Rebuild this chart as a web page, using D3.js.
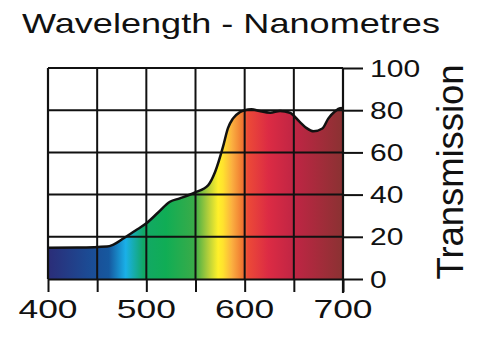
<!DOCTYPE html>
<html>
<head>
<meta charset="utf-8">
<script src="https://cdn.jsdelivr.net/npm/d3@7"></script>
<style>
  html, body { margin: 0; padding: 0; background: #fff; }
  svg { display: block; font-family: "Liberation Sans", Arial, sans-serif; }
</style>
</head>
<body>
<svg id="chart" width="494" height="363"></svg>
<script>
// ── Data ─────────────────────────────────────────────
const wavelength   = [400, 430, 460, 466, 477, 489, 500, 512, 524, 534, 549, 563, 570, 578, 583, 588, 595, 600, 607, 615, 626, 636, 646, 656, 663, 670, 679, 685, 692, 697, 700];
const transmission = [14.8, 14.9, 15.4, 16.2, 19.3, 23, 26.4, 31.5, 36.6, 38.2, 40.9, 44.5, 50.8, 62.7, 71.5, 76, 79, 80, 80.4, 79.6, 78.8, 79.6, 78.8, 74.5, 71.5, 70, 71.3, 76, 79.5, 80.9, 81];
const xTicks       = [400, 450, 500, 550, 600, 650, 700];
const xLabels      = [400, 500, 600, 700];
const yTicks       = [0, 20, 40, 60, 80, 100];

// spectrum colour stops (wavelength, colour)
const spectrumNm   = [400, 440, 462, 479, 497, 520, 549, 563, 573, 578, 587, 597, 603, 624, 651, 700];
const spectrumCol  = ['#2b2d78', '#1c4a93', '#16589f', '#1ab0e8', '#12a866', '#10ad55', '#3aab48', '#b4cf3a', '#fff02a', '#ffe22e', '#fbb040', '#f07b32', '#ec4a37', '#dc2b44', '#bf2544', '#8a3232'];

// ── Scales ───────────────────────────────────────────
const svg = d3.select('#chart');
const x = d3.scaleLinear().domain([400, 700]).range([48, 343]);
const y = d3.scaleLinear().domain([0, 100]).range([279, 68]);

const pts = wavelength.map((w, i) => [w, transmission[i]]);

// ── Gradient ─────────────────────────────────────────
const defs = svg.append('defs');
const grad = defs.append('linearGradient')
  .attr('id', 'spectrum')
  .attr('gradientUnits', 'userSpaceOnUse')
  .attr('x1', x(400)).attr('x2', x(700))
  .attr('y1', 0).attr('y2', 0);
spectrumNm.forEach((w, i) => {
  grad.append('stop')
    .attr('offset', (w - 400) / 300)
    .attr('stop-color', spectrumCol[i]);
});

// ── Area + curve ─────────────────────────────────────
svg.append('path')
  .datum(pts)
  .attr('fill', 'url(#spectrum)')
  .attr('d', d3.area().curve(d3.curveMonotoneX)
    .x(d => x(d[0])).y0(y(0)).y1(d => y(d[1])));

// ── Grid ─────────────────────────────────────────────
const grid = svg.append('g').attr('stroke', '#111').attr('stroke-width', 2);
grid.selectAll('.vg').data(xTicks.slice(1, -1)).join('line')
  .attr('x1', d => x(d)).attr('x2', d => x(d))
  .attr('y1', y(100)).attr('y2', y(0));
grid.selectAll('.hg').data(yTicks.slice(1, -1)).join('line')
  .attr('x1', x(400)).attr('x2', x(700))
  .attr('y1', d => y(d)).attr('y2', d => y(d));

svg.append('path')
  .datum(pts)
  .attr('fill', 'none')
  .attr('stroke', '#111')
  .attr('stroke-width', 2.5)
  .attr('stroke-linejoin', 'round')
  .attr('d', d3.line().curve(d3.curveMonotoneX)
    .x(d => x(d[0])).y(d => y(d[1])));

// ── Frame ────────────────────────────────────────────
const frame = svg.append('g').attr('stroke', '#111').attr('stroke-width', 2.2).attr('fill', 'none');
frame.append('line').attr('x1', x(400)).attr('x2', x(700)).attr('y1', y(100)).attr('y2', y(100));
frame.append('line').attr('x1', x(400)).attr('x2', x(400)).attr('y1', y(100)).attr('y2', y(0));

// bottom axis
const xAxis = svg.append('g')
  .attr('transform', `translate(0,${y(0)})`)
  .call(d3.axisBottom(x).tickValues(xTicks).tickSize(13).tickSizeOuter(0).tickFormat(''));
xAxis.select('.domain').attr('stroke', '#111').attr('stroke-width', 2.2);
xAxis.selectAll('.tick line').attr('stroke', '#111').attr('stroke-width', 2);

svg.append('g').selectAll('text').data(xLabels).join('text')
  .attr('x', d => x(d)).attr('y', 318)
  .attr('text-anchor', 'middle')
  .attr('font-size', 25)
  .attr('textLength', d => String(d).length * 19.7)
  .attr('lengthAdjust', 'spacingAndGlyphs')
  .attr('fill', '#111')
  .text(d => d);

// right axis
const yAxis = svg.append('g')
  .attr('transform', `translate(${x(700)},0)`)
  .call(d3.axisRight(y).tickValues(yTicks).tickSize(20).tickSizeOuter(0).tickFormat(''));
yAxis.select('.domain').attr('stroke', '#111').attr('stroke-width', 2.2)
  .attr('d', `M0,${y(100)}V${y(0) + 14}`);
yAxis.selectAll('.tick line').attr('stroke', '#111').attr('stroke-width', 2);

svg.append('g').selectAll('text').data(yTicks).join('text')
  .attr('x', 370).attr('y', d => y(d))
  .attr('dy', '0.36em')
  .attr('font-size', 24)
  .attr('textLength', d => String(d).length * 16.7)
  .attr('lengthAdjust', 'spacingAndGlyphs')
  .attr('fill', '#111')
  .text(d => d);

// ── Titles ───────────────────────────────────────────
svg.append('text')
  .attr('x', 22).attr('y', 33)
  .attr('font-size', 28)
  .attr('textLength', 418)
  .attr('lengthAdjust', 'spacingAndGlyphs')
  .attr('fill', '#111')
  .text('Wavelength - Nanometres');

svg.append('text')
  .attr('transform', 'translate(463,172) rotate(-90)')
  .attr('text-anchor', 'middle')
  .attr('font-size', 36)
  .attr('textLength', 215)
  .attr('lengthAdjust', 'spacingAndGlyphs')
  .attr('fill', '#111')
  .text('Transmission');
</script>
</body>
</html>
